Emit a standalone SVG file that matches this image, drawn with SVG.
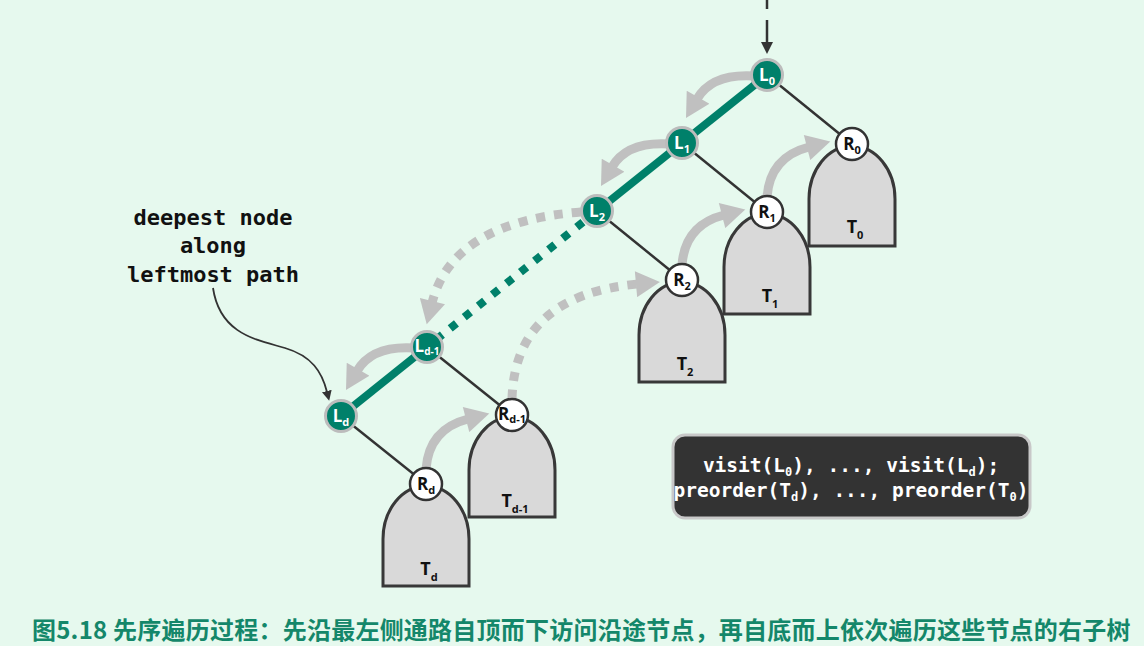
<svg xmlns="http://www.w3.org/2000/svg" width="1144" height="646" viewBox="0 0 1144 646">
<style>
.edge{stroke:#333;stroke-width:2.5;fill:none}
.gpath{stroke:#00806a;stroke-width:8;fill:none}
.garc{stroke:#c0c0c0;stroke-width:9;fill:none;marker-end:url(#gh)}
.dot{stroke-dasharray:9 9}
.sub{stroke:#383838;stroke-width:3;fill:#d9d9d9}
.ln{fill:#00806a;stroke:#bcbcbc;stroke-width:3}
.rn{fill:#fff;stroke:#333;stroke-width:2.5}
.lt{font-family:"Open Sans","DejaVu Sans",sans-serif;font-weight:bold;font-size:17px;fill:#fff;text-anchor:middle}
.rt{font-family:"Open Sans","DejaVu Sans",sans-serif;font-weight:bold;font-size:17px;fill:#111;text-anchor:middle}
.tt{font-family:"Open Sans","DejaVu Sans",sans-serif;font-weight:bold;font-size:18px;fill:#111;text-anchor:middle}
.s{font-size:11px}
.mono{font-family:"DejaVu Sans Mono","Liberation Mono",monospace;font-weight:bold;text-anchor:middle}
</style>
<defs>
<marker id="gh" markerUnits="userSpaceOnUse" markerWidth="26" markerHeight="26" viewBox="0 0 24 26" refX="2" refY="13" orient="auto">
<path d="M0,0 L24,13 L0,26 Z" fill="#c0c0c0"/>
</marker>
<marker id="bh" markerUnits="userSpaceOnUse" markerWidth="12" markerHeight="12" viewBox="0 0 12 12" refX="1" refY="6" orient="auto">
<path d="M0,0 L12,6 L0,12 Z" fill="#333"/>
</marker>
<marker id="kh" markerUnits="userSpaceOnUse" markerWidth="10" markerHeight="10" viewBox="0 0 10 10" refX="1" refY="5" orient="auto">
<path d="M0,0 L10,5 L0,10 Z" fill="#333"/>
</marker>
</defs>
<rect width="1144" height="646" fill="#e6f9ee"/>

<g id="connectors">
<line x1="767" y1="0" x2="767" y2="9" stroke="#333" stroke-width="2.5"/>
<line x1="767" y1="20" x2="767" y2="43" stroke="#333" stroke-width="2.5" marker-end="url(#bh)"/>
<line class="edge" x1="767" y1="75" x2="852" y2="144"/>
<line class="edge" x1="682" y1="143" x2="767" y2="212"/>
<line class="edge" x1="597" y1="211" x2="682" y2="280"/>
<line class="edge" x1="427" y1="347" x2="512" y2="415"/>
<line class="edge" x1="341" y1="416" x2="426" y2="484"/>
<polyline class="gpath" points="767,75 682,143 597,211"/>
<line class="gpath" x1="597" y1="211" x2="427" y2="347" stroke-dasharray="8 10"/>
<line class="gpath" x1="427" y1="347" x2="341" y2="416"/>
<path d="M213,288 C220,335 258,340 285,348 S322,372 327,392" stroke="#333" stroke-width="1.8" fill="none" marker-end="url(#kh)"/>
</g>

<g id="T0"><path class="sub" d="M809,246 V199 A43 53 0 0 1 895,199 V246 Z"/><text class="tt" x="855" y="233">T<tspan class="s" dy="6">0</tspan></text></g>
<g id="T1"><path class="sub" d="M724,314 V267 A43 53 0 0 1 810,267 V314 Z"/><text class="tt" x="770" y="302">T<tspan class="s" dy="6">1</tspan></text></g>
<g id="T2"><path class="sub" d="M639,382 V335 A43 53 0 0 1 725,335 V382 Z"/><text class="tt" x="685" y="370">T<tspan class="s" dy="6">2</tspan></text></g>
<g id="Td-1"><path class="sub" d="M469,517 V470 A43 53 0 0 1 555,470 V517 Z"/><text class="tt" x="515" y="507">T<tspan class="s" dy="6">d-1</tspan></text></g>
<g id="Td"><path class="sub" d="M383,586 V539 A43 53 0 0 1 469,539 V586 Z"/><text class="tt" x="429" y="575">T<tspan class="s" dy="6">d</tspan></text></g>

<g id="arrows">
<path class="garc" d="M755,76 Q712,73 697,99"/>
<path class="garc" d="M670,144 Q627,141 612,167"/>
<path class="garc dot" d="M581,212 Q452,222 432,303"/>
<path class="garc" d="M415,348 Q372,345 357,371"/>
<path class="garc" d="M426,469 Q429,429 468,419"/>
<path class="garc dot" d="M512,399 Q515,295 638,284"/>
<path class="garc" d="M682,265 Q685,225 724,215"/>
<path class="garc" d="M767,197 Q770,157 809,147"/>
</g>

<g id="L0"><circle class="ln" cx="767" cy="75" r="15.5"/><text class="lt" x="767" y="81">L<tspan class="s" dy="4">0</tspan></text></g>
<g id="L1"><circle class="ln" cx="682" cy="143" r="15.5"/><text class="lt" x="682" y="149">L<tspan class="s" dy="4">1</tspan></text></g>
<g id="L2"><circle class="ln" cx="597" cy="211" r="15.5"/><text class="lt" x="597" y="217">L<tspan class="s" dy="4">2</tspan></text></g>
<g id="Ld-1"><circle class="ln" cx="427" cy="347" r="15.5"/><text class="lt" x="427" y="352" font-size="14">L<tspan font-size="10" dy="3">d-1</tspan></text></g>
<g id="Ld"><circle class="ln" cx="341" cy="416" r="15.5"/><text class="lt" x="341" y="422">L<tspan class="s" dy="4">d</tspan></text></g>
<g id="R0"><circle class="rn" cx="852" cy="144" r="16"/><text class="rt" x="852" y="150">R<tspan class="s" dy="4">0</tspan></text></g>
<g id="R1"><circle class="rn" cx="767" cy="212" r="16"/><text class="rt" x="767" y="218">R<tspan class="s" dy="4">1</tspan></text></g>
<g id="R2"><circle class="rn" cx="682" cy="280" r="16"/><text class="rt" x="682" y="286">R<tspan class="s" dy="4">2</tspan></text></g>
<g id="Rd-1"><circle class="rn" cx="512" cy="415" r="16"/><text class="rt" x="512" y="420" font-size="15">R<tspan font-size="11" dy="3">d-1</tspan></text></g>
<g id="Rd"><circle class="rn" cx="426" cy="484" r="16"/><text class="rt" x="426" y="490">R<tspan class="s" dy="4">d</tspan></text></g>

<g id="note">
<text class="mono" font-size="22" fill="#111" x="213" y="225">deepest node</text>
<text class="mono" font-size="22" fill="#111" x="213" y="253">along</text>
<text class="mono" font-size="22" fill="#111" x="213" y="282">leftmost path</text>
</g>

<g id="code">
<rect x="673" y="435" width="357" height="83" rx="12" fill="#333" stroke="#c8c8c8" stroke-width="3"/>
<text class="mono" font-size="19.5" fill="#fff" x="851" y="472">visit(L<tspan font-size="12" dy="4">0</tspan><tspan dy="-4">), ..., visit(L</tspan><tspan font-size="12" dy="4">d</tspan><tspan dy="-4">);</tspan></text>
<text class="mono" font-size="19.5" fill="#fff" x="851" y="497">preorder(T<tspan font-size="12" dy="4">d</tspan><tspan dy="-4">), ..., preorder(T</tspan><tspan font-size="12" dy="4">0</tspan><tspan dy="-4">)</tspan></text>
</g>

<text x="32" y="639" font-family="Noto Sans CJK SC" font-weight="bold" font-size="24" letter-spacing="0.23" fill="#14876a">图5.18 先序遍历过程：先沿最左侧通路自顶而下访问沿途节点，再自底而上依次遍历这些节点的右子树</text>
</svg>
